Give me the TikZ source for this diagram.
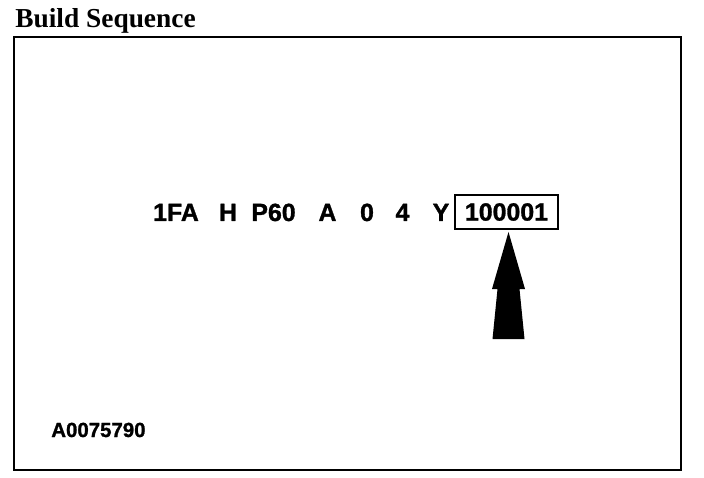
\documentclass[tikz,border=0pt]{standalone}
\usepackage{fontspec}
\setmainfont{Liberation Serif}
\setsansfont{Liberation Sans}
\newfontfamily\heavysans{Liberation Sans Bold}[FakeBold=1.2]
\begin{document}
\begin{tikzpicture}[x=1bp,y=-1bp,line width=2.6bp,every node/.style={inner sep=0pt,anchor=base},
  code/.style={font=\heavysans\fontsize{25}{25}\selectfont}]
\useasboundingbox (0,0) rectangle (704,478);
\node[anchor=base west,font=\bfseries\fontsize{27.5}{27.5}\selectfont] (title) at (14,28) {Build Sequence};
\draw (14,37) rectangle (681,470);
% vehicle number
\node[code] (wmi) at (176,221) {1FA};
\node[code] (rc) at (228,221) {H};
\node[code] (body) at (273.5,221) {P60};
\node[code] (eng) at (327.5,221) {A};
\node[code] (chk) at (367,221) {0};
\node[code] (yr) at (402.5,221) {4};
\node[code] (plant) at (441,221) {Y};
\node[code,draw,line width=2.2bp,anchor=center,minimum width=103bp,minimum height=34bp] (serial) at (506.5,212) {100001};
% arrow
\coordinate (tip) at (508.5,232);
\fill (tip) -- (525,289) -- (519.5,289) -- (524.5,339) -- (492.5,339) -- (497.5,289) -- (492,289) -- cycle;
\node[anchor=base west,font=\heavysans\fontsize{20.5}{20.5}\selectfont] (fig) at (50,437) {A0075790};
\end{tikzpicture}
\end{document}
